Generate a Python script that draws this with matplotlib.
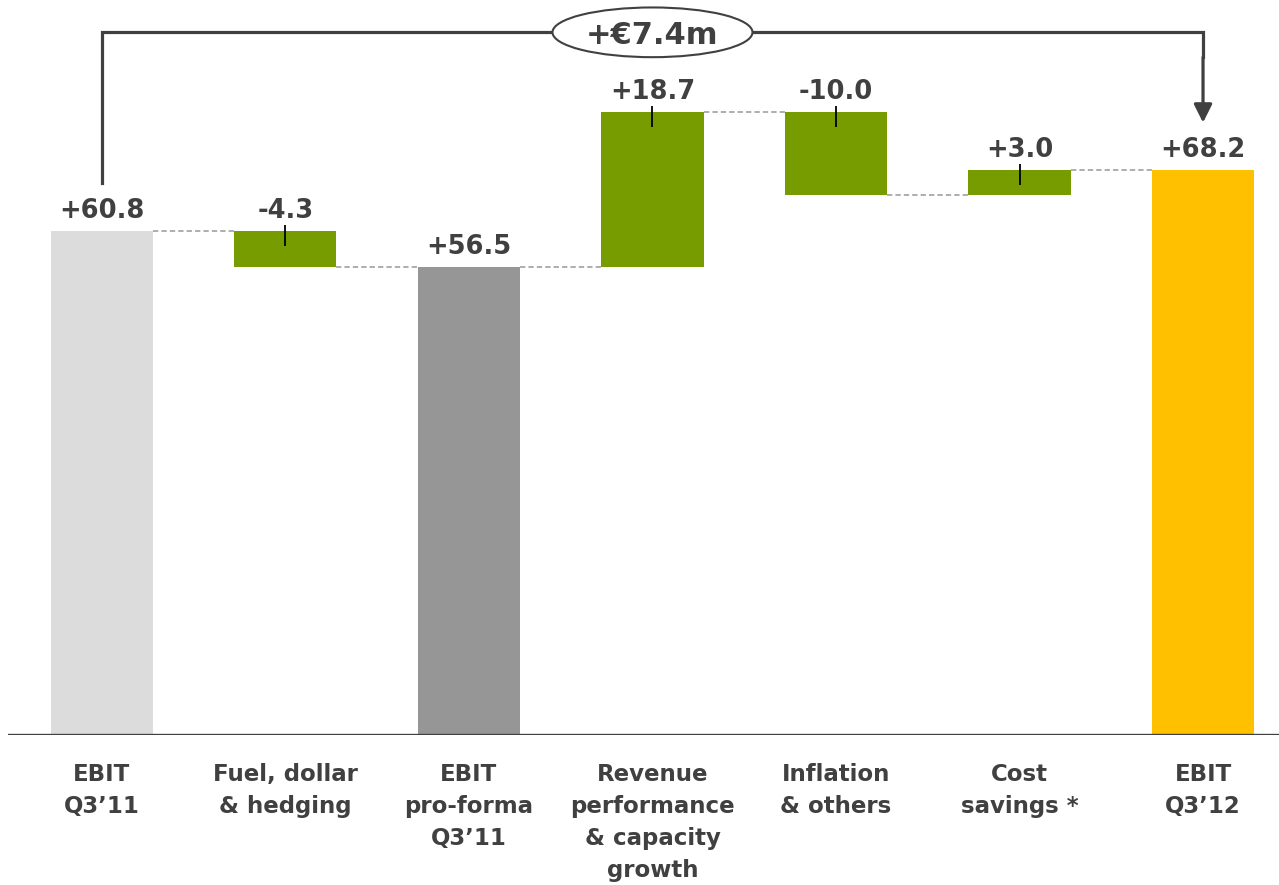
import matplotlib.pyplot as plt
from matplotlib.patches import Ellipse

FONT = "DejaVu Sans"
plt.rcParams['font.family'] = [FONT]

# EBIT bridge Q3'11 -> Q3'12 (EUR m)
labels = ["EBIT\nQ3\u201911", "Fuel, dollar\n& hedging", "EBIT\npro-forma\nQ3\u201911",
          "Revenue\nperformance\n& capacity\ngrowth", "Inflation\n& others",
          "Cost\nsavings *", "EBIT\nQ3\u201912"]
values = [60.8, -4.3, 56.5, 18.7, -10.0, 3.0, 68.2]
kinds = ["total", "delta", "total", "delta", "delta", "delta", "total"]
value_text = ["+60.8", "-4.3", "+56.5", "+18.7", "-10.0", "+3.0", "+68.2"]
total_colors = {0: "#dcdcdc", 2: "#969696", 6: "#ffc000"}
change_text = "+\u20ac7.4m"

green = "#769c00"
dark = "#404040"

fig = plt.figure(figsize=(12.79, 8.85), dpi=100)
ax = fig.add_axes([8 / 1279, 150 / 885, 1 - 8 / 1279, 1 - 150 / 885])
ax.set_xlim(-0.512, 6.414)
ax.set_ylim(0, 88.7)
for s in ax.spines.values():
    s.set_visible(False)
ax.set_yticks([])

width = 0.556
running = 0.0
bottoms, tops, ends = [], [], []
for i, (v, k) in enumerate(zip(values, kinds)):
    if k == "total":
        b, h = 0, v
        running = v
        ax.bar(i, h, width, bottom=b, color=total_colors[i], zorder=2)
    else:
        start = running
        running = start + v
        b, h = min(start, running), abs(v)
        ax.bar(i, h, width, bottom=b, color=green, zorder=2)
        # small marker at the top centre of each change bar
        ax.vlines(i, b + h - 1.8, b + h + 0.7, color="black", lw=1.3, zorder=3)
    bottoms.append(b)
    tops.append(b + h)
    ends.append(running)
    ax.annotate(value_text[i], (i, b + h), xytext=(0, 9.5), textcoords="offset points",
                ha="center", va="baseline", fontsize=18.5, fontweight="bold",
                color=dark, family=FONT)

# dashed connectors between consecutive bars
for i in range(len(values) - 1):
    ax.plot([i + width / 2, i + 1 - width / 2], [ends[i], ends[i]], ls=(0, (3.5, 2)),
            color="#999999", lw=1.1, zorder=1)

# baseline
ax.axhline(0, color=dark, lw=2.4, zorder=4)

# overall change bracket
bracket_y = 84.8
ax.plot([0, 0, 6, 6], [tops[0] + 5.8, bracket_y, bracket_y, bracket_y - 3],
        color=dark, lw=2.3, solid_joinstyle="miter", zorder=3, clip_on=False)
ax.annotate("", xy=(6, tops[6] + 5.7), xytext=(6, bracket_y - 3),
            arrowprops=dict(arrowstyle="-|>,head_length=1.1,head_width=0.55",
                            mutation_scale=10, color=dark, lw=2.3,
                            shrinkA=0, shrinkB=0), zorder=3)
ax.add_patch(Ellipse((3.0, bracket_y), 1.09, 6.0, facecolor="white", edgecolor=dark,
                     lw=1.5, zorder=5, clip_on=False))
ax.text(3.0, bracket_y, change_text, ha="center", va="center_baseline", fontsize=22,
        fontweight="bold", color=dark, zorder=6, family=FONT)

ax.set_xticks(range(len(labels)))
ax.set_xticklabels(labels, fontsize=16.5, fontweight="bold", color=dark, linespacing=1.5,
                   family=FONT)
ax.tick_params(axis="x", length=0, pad=20)

fig.savefig("out.png", dpi=100, facecolor="white")
